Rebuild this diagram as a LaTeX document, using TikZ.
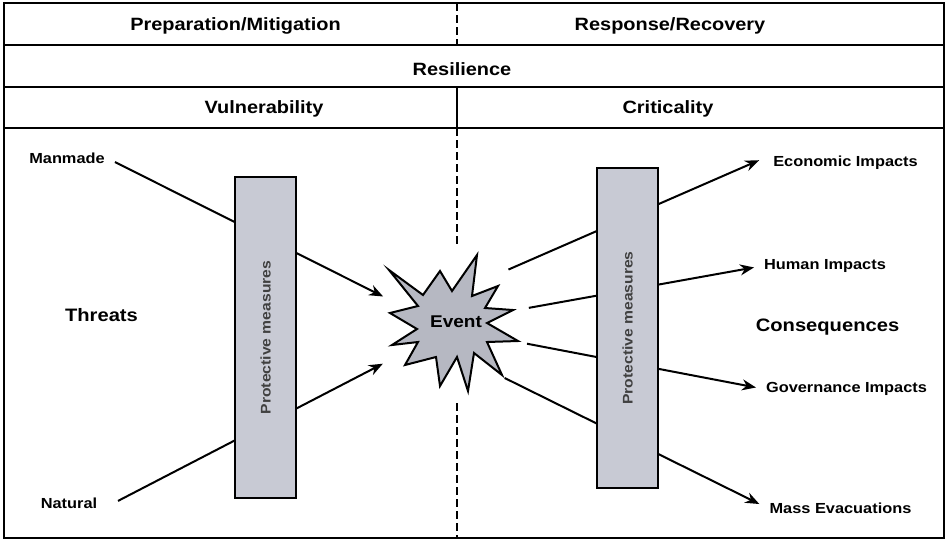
\documentclass[tikz,border=0pt]{standalone}
\usepackage{fontspec}
\setmainfont{Liberation Sans}[FakeStretch=1.12]
\usetikzlibrary{arrows.meta}
\usetikzlibrary{backgrounds}
\pgfdeclarelayer{background}
\pgfdeclarelayer{foreground}
\pgfsetlayers{background,main,foreground}
\definecolor{boxgray}{RGB}{200,202,212}
\definecolor{burstgray}{RGB}{182,184,194}
\tikzset{head/.style={inner sep=2pt, font=\fontsize{17.8}{21}\selectfont\bfseries},
big/.style={inner sep=2pt, font=\fontsize{18}{21}\selectfont\bfseries},
small/.style={inner sep=2pt, font=\fontsize{14.6}{17}\selectfont\bfseries},
protect/.style={draw, line width=2.5pt, fill=boxgray, rotate=90, minimum height=61pt,
minimum width=321pt, text=black!75, font=\fontsize{14}{16}\selectfont\bfseries},
burst/.style={draw, line width=2pt, fill=burstgray, line join=miter},
event/.style={circle, minimum size=148pt, inner sep=0pt, font=\fontsize{17}{20}\selectfont\bfseries},
frame/.style={line width=2.5pt},
rule/.style={line width=2pt},
divide/.style={line width=1.6pt, dash pattern=on 8pt off 4pt},
link/.style={line width=2pt},
>={Stealth[length=14pt,width=11pt]}}

\begin{document}
\begin{tikzpicture}[x=1pt,y=-1pt]
  \useasboundingbox (0,0) rectangle (949,542);
  \draw [frame] (4,3) rectangle (944,538);
  \draw [rule] (4,45) -- (944,45) (4,87) -- (944,87) (4,128) -- (944,128) (457,87) -- (457,128);
  \draw [divide] (457,3) -- (457,45) (457,128) -- (457,245) (457,403) -- (457,538);
  \node (prep) [head] at (235.5,26) {Preparation/Mitigation};
  \node (resp) [head] at (670,26) {Response/Recovery};
  \node (resil) [head] at (462,69) {Resilience};
  \node (vuln) [head] at (264,109) {Vulnerability};
  \node (crit) [head] at (668,109) {Criticality};
  \node (manmade) [small] at (67,158) {Manmade};
  \node (natural) [small] at (69,503) {Natural};
  \node (threats) [big] at (101.5,315.5) {Threats};
  \node (econ) [small] at (845.5,163) {Economic Impacts};
  \node (human) [small] at (825,266) {Human Impacts};
  \node (conseq) [big] at (827.5,327.5) {Consequences};
  \node (gov) [small] at (846.5,389) {Governance Impacts};
  \node (mass) [small] at (840.5,508) {Mass Evacuations};
  \node (pleft) [protect] at (265.5,337.5) {Protective measures};
  \node (pright) [protect, minimum width=320pt] at (627.5,328) {Protective measures};
  \draw [burst] (389,270) -- (423,295) -- (440,271) -- (452,291) -- (477,255) -- (472,296)
    -- (498,286) -- (485,308) -- (513,310) -- (487,323) -- (518,341) -- (487,342)
    -- (502,375) -- (474,353) -- (468,391) -- (457,357) -- (440,386) -- (436,357)
    -- (405,365) -- (418,342) -- (392,345) -- (417,329) -- (390,313) -- (418,306) -- cycle;
  \node (event) [event] at (456,322) {Event};
  \begin{pgfonlayer}{background}
    \draw [link,->,shorten <=9pt,shorten >=3pt] (manmade.east) -- (event.161);
    \draw [link,->,shorten <=21pt,shorten >=10pt] (natural.south east) -- (event.210);
    \draw [link,->,shorten >=13pt] (event.45) -- ([yshift=8pt]econ.west);
    \draw [link,->,shorten >=8pt] (event.11) -- (human.west);
    \draw [link,->,shorten >=8pt] (event.-17) -- (gov.west);
    \draw [link,->,shorten >=9pt] (event.-49) -- (mass.west);
  \end{pgfonlayer}
\end{tikzpicture}
\end{document}
